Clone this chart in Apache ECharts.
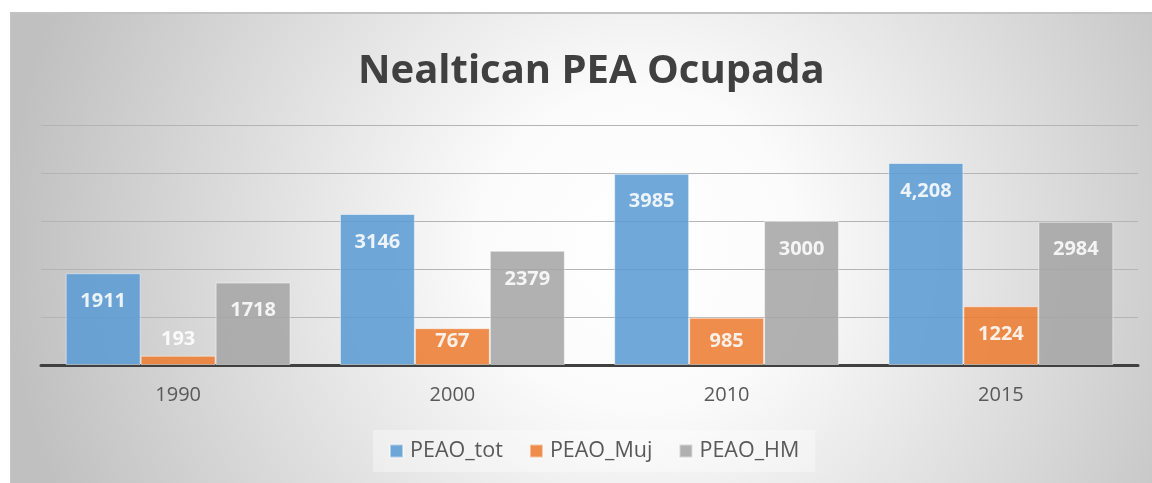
<!DOCTYPE html>
<html>
<head>
<meta charset="utf-8">
<script src="https://cdn.jsdelivr.net/npm/echarts@6/dist/echarts.min.js"></script>
<style>
  html, body { margin: 0; padding: 0; background: #ffffff; }
  #main {
    position: absolute; left: 10px; top: 12px;
    width: 1142px; height: 470px;
    border-top: 2px solid #c2c2c2;
    border-left: 1px solid #c4c4c4;
  }
</style>
</head>
<body>
<div id="main"></div>
<script>
// data
const years = ['1990', '2000', '2010', '2015'];
const peaoTot = [1911, 3146, 3985, 4208];
const peaoMuj = [193, 767, 985, 1224];
const peaoHM = [1718, 2379, 3000, 2984];
// the 2015 total is shown with a thousands separator in the original
const totText = ['1911', '3146', '3985', '4,208'];

const labelFont = {
    color: '#ffffff',
    fontFamily: 'Open Sans',
    fontWeight: 'bold',
    fontSize: 20
};

// Excel puts the label inside the top of the bar, pushes it down/out for short bars
function barData(values, texts) {
    return values.map((v, i) => {
        let pos = { position: 'insideTop', distance: 18 };
        if (v < 300) pos = { position: 'top', distance: 6 };
        else if (v < 1100) pos = { position: 'insideBottom', distance: 14 };
        const item = { value: v, label: pos };
        if (texts) item.label.formatter = texts[i];
        return item;
    });
}

function makeSeries(name, color, values, texts) {
    return {
        name: name,
        type: 'bar',
        barGap: '0%',
        barCategoryGap: '18%',
        data: barData(values, texts),
        itemStyle: {
            color: color,
            opacity: 0.87,
            borderColor: 'rgba(255,255,255,0.55)',
            borderWidth: 1
        },
        label: Object.assign({ show: true }, labelFont)
    };
}

const chart = echarts.init(document.getElementById('main'));
chart.setOption({
    animation: false,
    backgroundColor: {
        type: 'radial',
        x: 0.55, y: 0.5, r: 1.35,
        colorStops: [
            { offset: 0, color: '#ffffff' },
            { offset: 0.25, color: '#fbfbfb' },
            { offset: 1, color: '#c0c0c0' }
        ]
    },
    title: {
        text: 'Nealtican PEA Ocupada',
        left: 342,
        top: 33,
        textStyle: {
            color: '#404040',
            fontFamily: 'Open Sans',
            fontWeight: 'bold',
            fontSize: 40
        }
    },
    legend: {
        bottom: 12,
        left: 362,
        itemWidth: 13,
        itemHeight: 13,
        itemGap: 26,
        icon: 'rect',
        backgroundColor: 'rgba(255,255,255,0.35)',
        padding: [10, 16, 10, 16],
        textStyle: {
            color: '#595959',
            fontFamily: 'Open Sans',
            fontSize: 21.5,
            padding: [0, 0, 0, 2]
        },
        data: ['PEAO_tot', 'PEAO_Muj', 'PEAO_HM']
    },
    grid: {
        left: 30,
        right: 15,
        top: 111,
        bottom: 119
    },
    xAxis: {
        type: 'category',
        data: years,
        axisLine: { lineStyle: { color: '#404040', width: 3 } },
        axisTick: { show: false },
        axisLabel: {
            color: '#595959',
            fontFamily: 'Open Sans',
            fontSize: 20,
            margin: 20
        }
    },
    yAxis: {
        type: 'value',
        min: 0,
        max: 5000,
        interval: 1000,
        axisLine: { show: false },
        axisTick: { show: false },
        axisLabel: { show: false },
        splitLine: { lineStyle: { color: '#b4b4b4', width: 1.2 } }
    },
    series: [
        makeSeries('PEAO_tot', '#5b9bd5', peaoTot, totText),
        makeSeries('PEAO_Muj', '#ed7d31', peaoMuj),
        makeSeries('PEAO_HM', '#a5a5a5', peaoHM)
    ]
});
</script>
</body>
</html>
